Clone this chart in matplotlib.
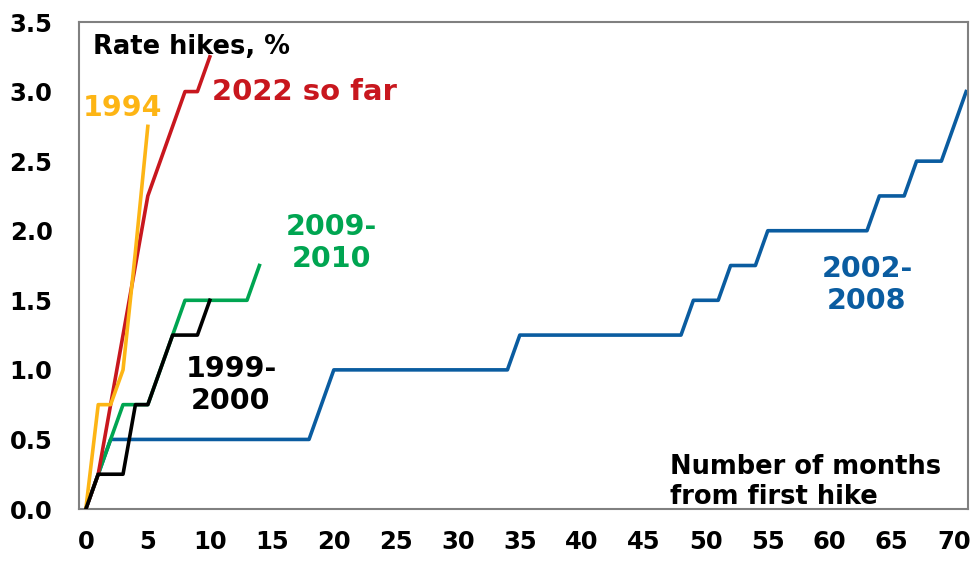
import numpy as np
import matplotlib
matplotlib.use("Agg")
import matplotlib.pyplot as plt

plt.rcParams["font.family"] = ["DejaVu Sans"]
plt.rcParams["font.weight"] = "bold"

# cumulative rate hikes (%) by month from first hike
hikes_2002 = [0, 0.25, 0.5, 0.5, 0.5, 0.5, 0.5, 0.5, 0.5, 0.5, 0.5, 0.5, 0.5, 0.5,
              0.5, 0.5, 0.5, 0.5, 0.5, 0.75, 1.0, 1.0, 1.0, 1.0, 1.0, 1.0, 1.0, 1.0,
              1.0, 1.0, 1.0, 1.0, 1.0, 1.0, 1.0, 1.25, 1.25, 1.25, 1.25, 1.25, 1.25,
              1.25, 1.25, 1.25, 1.25, 1.25, 1.25, 1.25, 1.25, 1.5, 1.5, 1.5, 1.75,
              1.75, 1.75, 2.0, 2.0, 2.0, 2.0, 2.0, 2.0, 2.0, 2.0, 2.0, 2.25, 2.25,
              2.25, 2.5, 2.5, 2.5, 2.75, 3.0]
hikes_2009 = [0, 0.25, 0.5, 0.75, 0.75, 0.75, 1.0, 1.25, 1.5, 1.5, 1.5, 1.5, 1.5, 1.5, 1.75]
hikes_2022 = [0, 0.25, 0.75, 1.25, 1.75, 2.25, 2.5, 2.75, 3.0, 3.0, 3.25]
hikes_1994 = [0, 0.75, 0.75, 1.0, 1.85, 2.75]
hikes_1999 = [0, 0.25, 0.25, 0.25, 0.75, 0.75, 1.0, 1.25, 1.25, 1.25, 1.5]

BLUE = "#0A5CA0"
GREEN = "#00A551"
RED = "#C8171E"
YELLOW = "#FDB515"

fig = plt.figure(figsize=(9.79, 5.63), dpi=100)
ax = fig.add_axes([0.0807, 0.0959, 0.9081, 0.865])

LW = 2.6
ax.plot(np.arange(len(hikes_2002)), hikes_2002, color=BLUE, lw=LW, zorder=2)
ax.plot(np.arange(len(hikes_2009)), hikes_2009, color=GREEN, lw=LW, zorder=3)
ax.plot(np.arange(len(hikes_2022)), hikes_2022, color=RED, lw=LW, zorder=4)
ax.plot(np.arange(len(hikes_1994)), hikes_1994, color=YELLOW, lw=LW, zorder=5)
ax.plot(np.arange(len(hikes_1999)), hikes_1999, color="black", lw=LW, zorder=6)

ax.set_xlim(-0.55, 71.15)
ax.set_ylim(0, 3.5)
ax.set_xticks(np.arange(0, 71, 5))
ax.set_yticks(np.arange(0, 3.51, 0.5))
ax.yaxis.set_major_formatter(plt.FormatStrFormatter("%.1f"))
ax.tick_params(length=0, labelsize=17.5)
ax.tick_params(axis="y", pad=19)
ax.tick_params(axis="x", pad=15)
for sp in ax.spines.values():
    sp.set_color("#808080")
    sp.set_linewidth(1.5)

tkw = dict(transform=ax.transData, fontweight="bold")
ax.text(0.6, 3.32, "Rate hikes, %", fontsize=18.5, ha="left", va="center", **tkw)
ax.text(10.2, 3.0, "2022 so far", fontsize=21, color=RED, ha="left", va="center", **tkw)
ax.text(-0.25, 2.88, "1994", fontsize=20.5, color=YELLOW, ha="left", va="center", **tkw)
ax.text(19.8, 1.91, "2009-\n2010", fontsize=20.5, color=GREEN, ha="center", va="center",
        linespacing=1.16, **tkw)
ax.text(11.7, 0.89, "1999-\n2000", fontsize=20.5, color="black", ha="center", va="center",
        linespacing=1.16, **tkw)
ax.text(63.0, 1.61, "2002-\n2008", fontsize=20.5, color=BLUE, ha="center", va="center",
        linespacing=1.16, **tkw)
ax.text(47.1, 0.197, "Number of months\nfrom first hike", fontsize=18.5, ha="left",
        va="center", linespacing=1.2, **tkw)

fig.savefig("out.png", dpi=100)
